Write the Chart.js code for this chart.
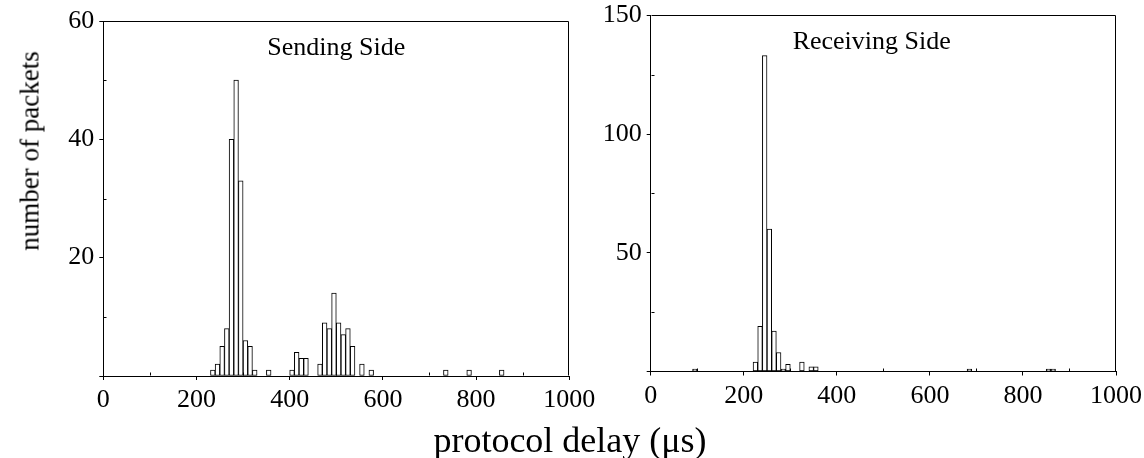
<!DOCTYPE html>
<html><head><meta charset="utf-8">
<script src="https://cdn.jsdelivr.net/npm/chart.js@4.4.1/dist/chart.umd.min.js"></script>
<style>
html,body{margin:0;padding:0;background:#fff;}
#wrap{position:relative;width:1144px;height:458px;overflow:hidden;background:#fff;}
canvas{position:absolute;left:0;top:0;}
.t{position:absolute;font-family:'Liberation Serif','Times New Roman',serif;color:#000;white-space:nowrap;line-height:1;}
#xt{left:570px;top:440px;font-size:36px;transform:translate(-50%,-50%);}
#yt{left:30px;top:151px;font-size:27px;transform:translate(-50%,-50%) rotate(-90deg);}
</style></head><body>
<div id="wrap">
<canvas id="c1" width="1144" height="458"></canvas>
<canvas id="c2" width="1144" height="458"></canvas>
<div class="t" id="xt">protocol delay (μs)</div>
<div class="t" id="yt">number of packets</div>
</div>
<script>
// bin width in microseconds
const BIN = 10;
// Sending side histogram (lower edge of each non-empty bin, packet counts)
const sendBinStart = [230,240,250,260,270,280,290,300,310,320,350,400,410,420,430,460,470,480,490,500,510,520,530,550,570,730,780,850];
const sendCounts   = [1,2,5,8,40,50,33,6,5,1,1,1,4,3,3,2,9,8,14,9,7,8,5,2,1,1,1,1];
// Receiving side histogram
const recvBinStart = [90,220,230,240,250,260,270,280,290,320,340,350,680,850,860];
const recvCounts   = [1,4,19,133,60,17,8,1,3,4,2,2,1,1,1];
// axis ticks
const xMajorTicks = [0,200,400,600,800,1000];
const xMinorTicks = [100,300,500,700,900];
const sendYMajor = [0,20,40,60];
const sendYMinor = [10,30,50];
const recvYMajor = [0,50,100,150];
const recvYMinor = [25,75,125];
const titles = ['Sending Side','Receiving Side'];

const FONT = "'Liberation Serif','Times New Roman',serif";

const framePlugin = {
  id: 'frame',
  afterDraw(chart, args, opts) {
    const ctx = chart.ctx, a = chart.chartArea, x = chart.scales.x, y = chart.scales.y;
    ctx.save();
    ctx.strokeStyle = '#000';
    ctx.lineWidth = 1;
    ctx.beginPath();
    const L = Math.round(a.left) + 0.5, R = Math.round(a.right) - 0.5;
    const T = Math.round(a.top) + 0.5, B = Math.round(a.bottom) - 0.5;
    ctx.moveTo(L, T); ctx.lineTo(R, T); ctx.lineTo(R, B);
    opts.xMinor.forEach(v => { const p = Math.round(x.getPixelForValue(v)) + 0.5; ctx.moveTo(p, B); ctx.lineTo(p, B - 3); });
    opts.yMinor.forEach(v => { const p = Math.round(y.getPixelForValue(v)) + 0.5; ctx.moveTo(L, p); ctx.lineTo(L + 3, p); });
    ctx.stroke();
    ctx.fillStyle = '#000';
    ctx.font = '26px ' + FONT;
    ctx.textAlign = 'center';
    ctx.textBaseline = 'alphabetic';
    ctx.fillText(opts.label, x.getPixelForValue(opts.labelX), a.top + opts.labelDy);
    ctx.restore();
  }
};

function makeChart(id, starts, counts, yMajor, yMinor, padding, yWidth, label, labelX) {
  const yMax = yMajor[yMajor.length - 1];
  const yStep = yMajor[1] - yMajor[0];
  return new Chart(document.getElementById(id), {
    type: 'bar',
    data: {
      datasets: [{
        data: starts.map((s, i) => ({ x: s + BIN / 2, y: counts[i] })),
        backgroundColor: '#fff',
        borderColor: '#000',
        borderWidth: 1,
        borderSkipped: false,
        barPercentage: 1,
        categoryPercentage: 1
      }]
    },
    options: {
      responsive: false,
      animation: false,
      events: [],
      layout: { padding },
      plugins: {
        legend: { display: false },
        tooltip: { enabled: false },
        frame: { xMinor: xMinorTicks, yMinor, label, labelX, labelDy: 34 }
      },
      scales: {
        x: {
          type: 'linear',
          min: xMajorTicks[0], max: xMajorTicks[xMajorTicks.length - 1],
          offset: false,
          afterBuildTicks: s => { s.ticks = xMajorTicks.map(v => ({ value: v })); },
          afterFit: s => { s.height = 50; s.paddingLeft = 0; s.paddingRight = 0; },
          ticks: { font: { family: FONT, size: 26 }, color: '#000', padding: 5, maxRotation: 0, autoSkip: false,
                   callback: v => String(v) },
          grid: { display: true, drawOnChartArea: false, drawTicks: true, tickLength: 4, color: '#000', offset: false },
          border: { display: true, color: '#000', width: 1 }
        },
        y: {
          type: 'linear',
          min: 0, max: yMax,
          afterBuildTicks: s => { s.ticks = yMajor.map(v => ({ value: v })); },
          afterFit: s => { s.width = yWidth; s.paddingTop = 0; s.paddingBottom = 0; },
          ticks: { font: { family: FONT, size: 26, lineHeight: 1 }, color: '#000', padding: 5, stepSize: yStep,
                   callback: v => (v === 0 ? '' : String(v)) },
          grid: { display: true, drawOnChartArea: false, drawTicks: true, tickLength: 4, color: '#000' },
          border: { display: true, color: '#000', width: 1 }
        }
      }
    },
    plugins: [framePlugin]
  });
}

makeChart('c1', sendBinStart, sendCounts, sendYMajor, sendYMinor,
  { left: 0, top: 21, right: 574.7, bottom: 32 }, 103.3, titles[0], 500);
makeChart('c2', recvBinStart, recvCounts, recvYMajor, recvYMinor,
  { left: 590.7, top: 15.3, right: 28, bottom: 36.5 }, 60, titles[1], 475);
</script>
</body></html>
